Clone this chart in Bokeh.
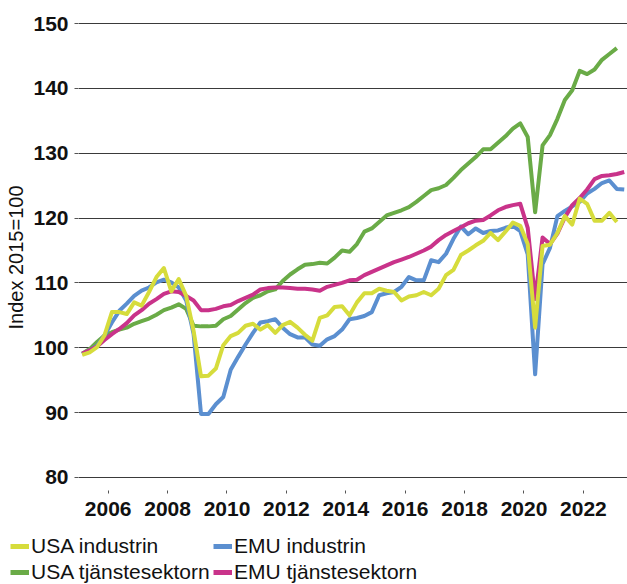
from bokeh.plotting import figure
from bokeh.layouts import column, row
from bokeh.models import Range1d, FixedTicker, Legend, LegendItem
from bokeh.embed import file_html
from bokeh.resources import INLINE

# Quarterly data, 2005Q1 onwards (index 2015=100)
start_year = 2005
usa_industrin = [98.9, 99.3, 100.1, 101.9, 105.5, 105.5, 105.2, 107.0, 106.5, 108.6,
                 110.9, 112.3, 108.7, 110.6, 108.0, 102.6, 95.6, 95.7, 96.8, 100.4,
                 101.8, 102.3, 103.4, 103.7, 102.8, 103.5, 102.3, 103.5, 104.0, 103.1,
                 102.0, 101.1, 104.6, 105.0, 106.3, 106.4, 105.0, 107.0, 108.4, 108.4,
                 109.1, 108.8, 108.6, 107.3, 107.9, 108.1, 108.6, 108.1, 109.1, 111.2,
                 112.0, 114.3, 115.0, 115.8, 116.5, 117.7, 116.6, 117.9, 119.3, 118.8,
                 116.0, 103.1, 115.7, 115.9, 117.7, 120.3, 119.0, 123.0, 122.2, 119.6,
                 119.6, 120.8, 119.4]
emu_industrin = [99.0, 99.6, 100.3, 101.9, 103.9, 105.7, 106.8, 108.0, 108.8, 109.3,
                 110.1, 110.5, 110.1, 109.3, 107.3, 102.1, 89.8, 89.8, 91.3, 92.4,
                 96.6, 98.6, 100.5, 102.3, 103.9, 104.1, 104.4, 103.1, 102.1, 101.6,
                 101.6, 100.5, 100.3, 101.3, 101.8, 102.8, 104.4, 104.6, 104.9, 105.5,
                 108.1, 108.4, 108.6, 109.4, 110.9, 110.4, 110.4, 113.5, 113.2, 114.5,
                 116.8, 118.7, 117.5, 118.4, 117.7, 118.0, 118.1, 118.5, 118.8, 118.0,
                 114.4, 95.9, 112.9, 115.4, 120.3, 121.1, 121.8, 122.5, 123.8, 124.5,
                 125.4, 125.8, 124.5, 124.4]
usa_tjanst = [99.1, 99.8, 100.9, 101.9, 102.4, 102.8, 103.1, 103.7, 104.1, 104.5,
              105.1, 105.8, 106.2, 106.7, 106.0, 103.4, 103.3, 103.3, 103.4, 104.4,
              104.9, 105.9, 106.9, 107.7, 108.1, 108.7, 109.0, 110.3, 111.3, 112.1,
              112.8, 112.9, 113.1, 113.0, 113.9, 115.0, 114.8, 116.0, 117.9, 118.4,
              119.4, 120.4, 120.8, 121.2, 121.7, 122.5, 123.4, 124.3, 124.6, 125.1,
              126.2, 127.4, 128.4, 129.4, 130.6, 130.6, 131.6, 132.6, 133.8, 134.6,
              132.5, 120.9, 131.2, 132.8, 135.3, 138.2, 139.7, 142.7, 142.2, 142.9,
              144.4, 145.3, 146.2]
emu_tjanst = [99.1, 99.6, 100.2, 101.2, 102.1, 102.9, 103.8, 105.0, 105.8, 106.8,
              107.5, 108.3, 108.7, 108.6, 108.0, 107.3, 105.8, 105.8, 106.0, 106.4,
              106.6, 107.2, 107.7, 108.2, 109.0, 109.2, 109.3, 109.3, 109.2, 109.1,
              109.1, 109.0, 108.8, 109.4, 109.7, 110.0, 110.4, 110.5, 111.2, 111.7,
              112.2, 112.7, 113.2, 113.6, 114.0, 114.5, 115.0, 115.6, 116.6, 117.4,
              118.0, 118.6, 119.2, 119.6, 119.7, 120.4, 121.2, 121.7, 122.0, 122.2,
              118.5, 107.5, 117.0, 116.0, 117.6, 120.1, 122.0, 123.1, 124.4, 126.0,
              126.5, 126.6, 126.8, 127.1]

y_ticks = [80, 90, 100, 110, 120, 130, 140, 150]
x_ticks = [2006, 2008, 2010, 2012, 2014, 2016, 2018, 2020, 2022]
labels = ["USA industrin", "EMU industrin", "USA tjänstesektorn", "EMU tjänstesektorn"]
colors = ["#d6dc3c", "#5b8fd0", "#6aab47", "#c9338a"]


def quarters(n):
    # mid-quarter positions
    return [start_year + (i // 4) + ((i % 4) + 0.5) / 4 for i in range(n)]


FONT = "Liberation Sans"

p = figure(width=627, height=525, output_backend="svg", toolbar_location=None,
           x_range=Range1d(2005.0, 2023.485), y_range=Range1d(77.53, 150.31),
           min_border_left=78, min_border_right=0, min_border_top=21,
           min_border_bottom=32)
p.outline_line_color = None
p.background_fill_color = "white"
p.border_fill_color = "white"

p.xgrid.visible = False
p.ygrid.grid_line_color = "#3a3a3a"
p.ygrid.grid_line_width = 1.2
p.yaxis.ticker = FixedTicker(ticks=y_ticks)
p.xaxis.ticker = FixedTicker(ticks=x_ticks)
p.ygrid.ticker = FixedTicker(ticks=y_ticks)

for ax in (p.xaxis, p.yaxis):
    ax.axis_line_color = None
    ax.minor_tick_line_color = None
    ax.major_tick_line_color = "#555555"
    ax.major_label_text_font = FONT
    ax.major_label_text_font_style = "bold"
    ax.major_label_text_font_size = "21px"
    ax.major_label_text_color = "#111111"

p.yaxis.major_tick_in = 0
p.yaxis.major_tick_out = 4
p.yaxis.major_label_standoff = 6
p.yaxis.axis_label = "Index 2015=100"
p.yaxis.axis_label_text_font = FONT
p.yaxis.axis_label_text_font_style = "normal"
p.yaxis.axis_label_text_font_size = "20px"
p.yaxis.axis_label_text_color = "#111111"
p.yaxis.axis_label_standoff = 3

p.xaxis.major_tick_in = 3
p.xaxis.major_tick_out = 0
p.xaxis.major_label_standoff = 8

series = [usa_industrin, emu_industrin, usa_tjanst, emu_tjanst]
for idx in [2, 1, 3, 0]:
    vals = series[idx]
    p.line(quarters(len(vals)), vals, line_color=colors[idx], line_width=4,
           line_join="round")

# legend panel
lg = figure(width=627, height=59, output_backend="svg", toolbar_location=None,
            x_range=Range1d(0, 1), y_range=Range1d(0, 1),
            x_axis_type=None, y_axis_type=None, min_border=0,
            min_border_left=0, min_border_right=0, min_border_top=0,
            min_border_bottom=0)
lg.outline_line_color = None
lg.background_fill_color = "white"
lg.border_fill_color = "white"
lg.xgrid.visible = False
lg.ygrid.visible = False
# legend-only swatch renderers (points lie outside the visible range)
lg_r = [lg.line([-5, -4], [-5, -4], line_color=colors[i], line_width=5) for i in range(4)]

for fig in (p, lg):
    try:
        fig.frame_align = False
    except Exception:
        pass


def make_legend(idxs, loc):
    return Legend(items=[LegendItem(label=labels[i], renderers=[lg_r[i]]) for i in idxs],
                  location=loc, orientation="horizontal",
                  label_text_font=FONT, label_text_font_size="21px",
                  label_text_color="#111111", label_width=181, label_height=24,
                  glyph_width=19, glyph_height=24, label_standoff=2, spacing=1,
                  padding=0, margin=0, border_line_color=None,
                  background_fill_alpha=0)


lg.add_layout(make_legend([0, 1], (10, 26)))
lg.add_layout(make_legend([2, 3], (10, 0)))

layout = column(p, row(lg), spacing=0)
open("out.html", "w").write(file_html(layout, INLINE))
